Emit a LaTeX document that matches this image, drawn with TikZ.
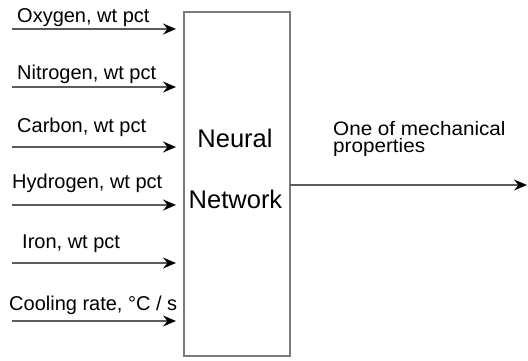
\documentclass[tikz,border=0pt]{standalone}
\usepackage{fontspec}
\setmainfont{Liberation Sans}
\newfontfamily\widesans[FakeStretch=1.06]{Liberation Sans}
\usetikzlibrary{arrows.meta}
\definecolor{boxgray}{HTML}{7A7A7A}
\definecolor{linegray}{HTML}{5A5A5A}
\tikzset{
  lbl/.style={anchor=base west, inner sep=0pt, font=\fontsize{20}{22}\selectfont},
  bigtxt/.style={anchor=base, inner sep=0pt, font=\fontsize{25.5}{28}\selectfont},
  nnbox/.style={draw=boxgray, line width=1.8pt, minimum width=106pt, minimum height=344pt, inner sep=0pt, outer sep=0pt},
  arr/.style={draw=linegray, line width=2.4pt, -{Stealth[length=13pt,width=11pt,inset=4.5pt,black]}}
}
\begin{document}
\begin{tikzpicture}[x=1pt,y=-1pt]
\useasboundingbox (0,0) rectangle (528,360);
\node[nnbox] (nn) at (237,184) {};
\node[bigtxt] (t1) at (235,147) {Neural};
\node[bigtxt] (t2) at (235.5,208) {Network};
% inputs
\node[lbl] (l1) at (17,22) {Oxygen, wt pct};
\node[lbl] (l2) at (17,79) {Nitrogen, wt pct};
\node[lbl] (l3) at (17,132) {Carbon, wt pct};
\node[lbl] (l4) at (12,188) {Hydrogen, wt pct};
\node[lbl] (l5) at (22,248) {Iron, wt pct};
\node[lbl] (l6) at (9,310) {Cooling rate, °C / s};
\coordinate (s1) at (12,29);
\coordinate (s2) at (12,87);
\coordinate (s3) at (12,147);
\coordinate (s4) at (12,205);
\coordinate (s5) at (12,263);
\coordinate (s6) at (12,321);
\foreach \i in {1,...,6}{
  \draw[arr, shorten >=8pt] (s\i) -- (s\i -| nn.west);
}
% output
\node[anchor=base west, inner sep=0pt, align=left, font=\widesans\fontsize{19.5}{17}\selectfont] (ol) at (333,152) {One of mechanical\\properties};
\coordinate (o1) at (527,185);
\draw[arr] (nn.east |- o1) -- (o1);
\end{tikzpicture}
\end{document}
